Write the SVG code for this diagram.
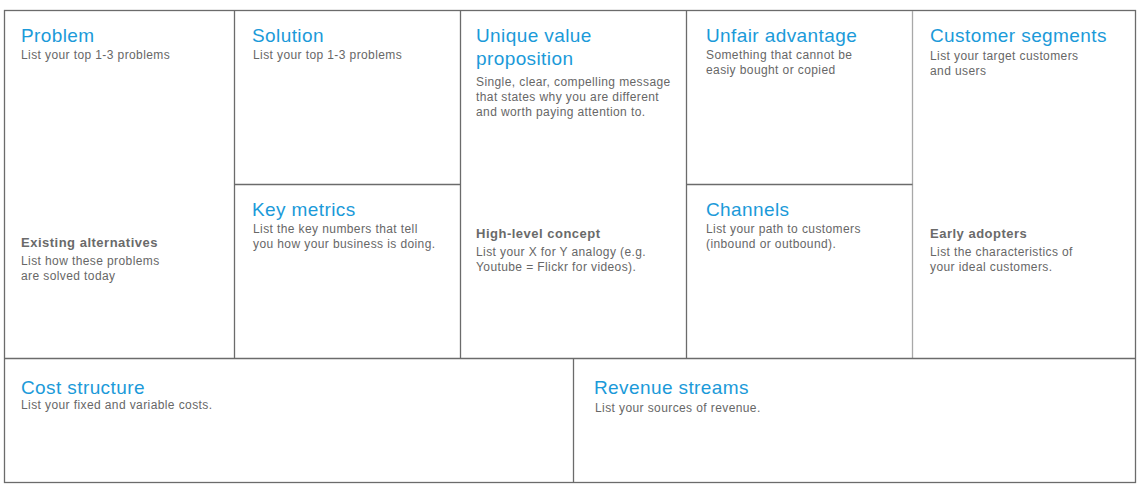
<svg xmlns="http://www.w3.org/2000/svg" width="1142" height="494" viewBox="0 0 1142 494">
  <style>
    .grid { fill: none; stroke: #6b6b6b; stroke-width: 1.3; }
    .grid-light { fill: none; stroke: #a8a8a8; stroke-width: 1.3; }
    .title { font-family: "Liberation Sans", Arial, sans-serif; font-size: 19px; letter-spacing: 0.4px; fill: #1b9ad9; }
    .body { font-family: "Liberation Sans", Arial, sans-serif; font-size: 12px; letter-spacing: 0.4px; fill: #676767; }
    .sub { font-family: "Liberation Sans", Arial, sans-serif; font-size: 13px; font-weight: bold; letter-spacing: 0.5px; fill: #6a6a6a; }
  </style>
  <rect width="1142" height="494" fill="#ffffff"/>

  <!-- canvas grid -->
  <g id="grid">
    <rect class="grid" x="4.5" y="10.5" width="1131" height="472"/>
    <line class="grid" x1="234.5" y1="10.5" x2="234.5" y2="358.5"/>
    <line class="grid" x1="460.5" y1="10.5" x2="460.5" y2="358.5"/>
    <line class="grid" x1="686.5" y1="10.5" x2="686.5" y2="358.5"/>
    <line class="grid-light" x1="912.5" y1="11" x2="912.5" y2="358"/>
    <line class="grid" x1="4.5" y1="358.5" x2="1135.5" y2="358.5"/>
    <line class="grid" x1="234.5" y1="184.5" x2="460.5" y2="184.5"/>
    <line class="grid" x1="686.5" y1="184.5" x2="912.5" y2="184.5"/>
    <line class="grid" x1="573.5" y1="358.5" x2="573.5" y2="482.5"/>
  </g>

  <g id="problem">
    <text class="title" x="21" y="42">Problem</text>
    <text class="body" x="21" y="59">List your top 1-3 problems</text>
    <text class="sub" x="21" y="247">Existing alternatives</text>
    <text class="body" x="21" y="265">List how these problems</text>
    <text class="body" x="21" y="280">are solved today</text>
  </g>

  <g id="solution">
    <text class="title" x="252" y="42">Solution</text>
    <text class="body" x="253" y="59">List your top 1-3 problems</text>
  </g>

  <g id="key-metrics">
    <text class="title" x="252" y="216">Key metrics</text>
    <text class="body" x="253" y="233">List the key numbers that tell</text>
    <text class="body" x="253" y="248">you how your business is doing.</text>
  </g>

  <g id="unique-value-proposition">
    <text class="title" x="476" y="42">Unique value</text>
    <text class="title" x="476" y="65">proposition</text>
    <text class="body" x="476" y="86">Single, clear, compelling message</text>
    <text class="body" x="476" y="101">that states why you are different</text>
    <text class="body" x="476" y="116">and worth paying attention to.</text>
    <text class="sub" x="476" y="238">High-level concept</text>
    <text class="body" x="476" y="256">List your X for Y analogy (e.g.</text>
    <text class="body" x="476" y="271">Youtube = Flickr for videos).</text>
  </g>

  <g id="unfair-advantage">
    <text class="title" x="706" y="42">Unfair advantage</text>
    <text class="body" x="706" y="59">Something that cannot be</text>
    <text class="body" x="706" y="74">easiy bought or copied</text>
  </g>

  <g id="channels">
    <text class="title" x="706" y="216">Channels</text>
    <text class="body" x="706" y="233">List your path to customers</text>
    <text class="body" x="706" y="248">(inbound or outbound).</text>
  </g>

  <g id="customer-segments">
    <text class="title" x="930" y="42">Customer segments</text>
    <text class="body" x="930" y="60">List your target customers</text>
    <text class="body" x="930" y="75">and users</text>
    <text class="sub" x="930" y="238">Early adopters</text>
    <text class="body" x="930" y="256">List the characteristics of</text>
    <text class="body" x="930" y="271">your ideal customers.</text>
  </g>

  <g id="cost-structure">
    <text class="title" x="21" y="394">Cost structure</text>
    <text class="body" x="21" y="409">List your fixed and variable costs.</text>
  </g>

  <g id="revenue-streams">
    <text class="title" x="594" y="394">Revenue streams</text>
    <text class="body" x="595" y="412">List your sources of revenue.</text>
  </g>
</svg>
